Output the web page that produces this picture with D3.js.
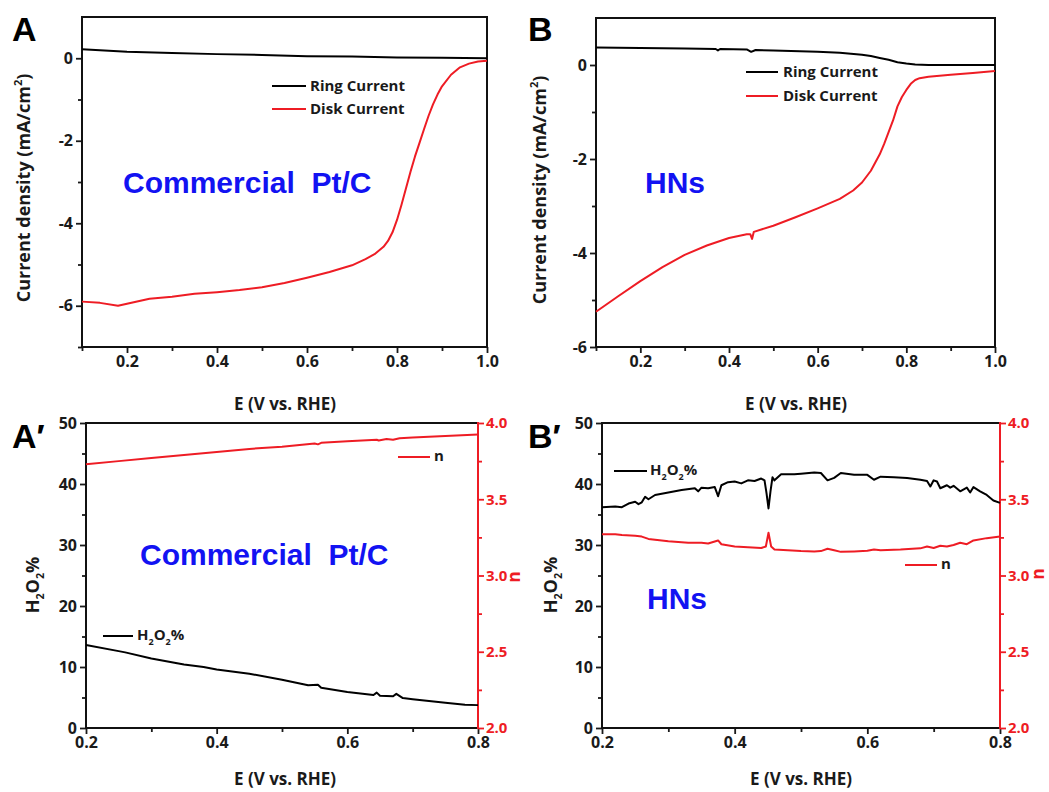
<!DOCTYPE html>
<html><head><meta charset="utf-8">
<script src="https://cdn.jsdelivr.net/npm/d3@7"></script>
<style>
body{margin:0;background:#fff;}
svg text{font-family:"Open Sans",Lato,sans-serif;}
</style></head><body>
<svg id="c" width="1049" height="792"></svg>
<script>
// ---------- DATA ----------
// Panel A (Commercial Pt/C) RRDE
const A_ringE = [0.10,0.20,0.30,0.40,0.50,0.60,0.70,0.80,0.90,1.00];
const A_ring  = [0.22,0.16,0.13,0.10,0.08,0.05,0.04,0.02,0.01,0.00];
const A_diskE = [0.10,0.14,0.18,0.20,0.25,0.30,0.35,0.40,0.45,0.50,0.55,0.60,0.65,0.70,0.73,0.75,0.77,0.78,0.79,0.80,0.81,0.82,0.83,0.84,0.85,0.86,0.87,0.88,0.89,0.90,0.92,0.94,0.96,0.98,1.00];
const A_disk  = [-5.90,-5.93,-6.00,-5.95,-5.83,-5.78,-5.71,-5.67,-5.62,-5.55,-5.45,-5.32,-5.18,-5.02,-4.87,-4.75,-4.57,-4.43,-4.22,-3.92,-3.55,-3.15,-2.75,-2.38,-2.05,-1.72,-1.40,-1.12,-0.88,-0.68,-0.40,-0.22,-0.13,-0.08,-0.06];
// Panel B (HNs) RRDE
const B_ringE = [0.10,0.20,0.30,0.37,0.375,0.38,0.44,0.45,0.46,0.50,0.60,0.65,0.70,0.72,0.74,0.76,0.78,0.80,0.82,0.85,1.00];
const B_ring  = [0.37,0.36,0.35,0.34,0.31,0.34,0.33,0.28,0.32,0.31,0.28,0.26,0.22,0.19,0.15,0.11,0.06,0.03,0.01,0.00,0.00];
const B_diskE = [0.10,0.15,0.20,0.25,0.30,0.35,0.40,0.44,0.448,0.452,0.456,0.50,0.55,0.60,0.65,0.68,0.70,0.72,0.74,0.75,0.76,0.77,0.78,0.79,0.80,0.81,0.82,0.83,0.85,0.90,0.95,1.00];
const B_disk  = [-5.25,-4.92,-4.60,-4.30,-4.04,-3.84,-3.68,-3.60,-3.60,-3.70,-3.55,-3.42,-3.24,-3.05,-2.85,-2.67,-2.50,-2.25,-1.90,-1.68,-1.43,-1.18,-0.88,-0.68,-0.53,-0.40,-0.32,-0.28,-0.25,-0.21,-0.17,-0.13];
// Panel A' (Commercial Pt/C) H2O2% and n
const Ap_h2o2E = [0.20,0.25,0.26,0.30,0.35,0.38,0.40,0.45,0.50,0.54,0.555,0.56,0.60,0.64,0.645,0.65,0.67,0.675,0.685,0.70,0.75,0.78,0.80];
const Ap_h2o2  = [13.6,12.6,12.4,11.4,10.4,10.0,9.6,8.9,7.9,7.0,7.1,6.6,5.9,5.4,5.8,5.3,5.2,5.6,4.9,4.7,4.15,3.8,3.75];
const Ap_nE = [0.20,0.25,0.30,0.35,0.40,0.45,0.50,0.55,0.555,0.56,0.60,0.645,0.648,0.66,0.67,0.68,0.70,0.75,0.80];
const Ap_n  = [3.73,3.75,3.77,3.79,3.81,3.83,3.845,3.865,3.86,3.87,3.88,3.89,3.885,3.895,3.89,3.90,3.905,3.915,3.925];
// Panel B' (HNs) H2O2% and n
const Bp_h2o2E = [0.20,0.22,0.23,0.24,0.25,0.255,0.26,0.265,0.27,0.28,0.30,0.32,0.34,0.345,0.35,0.36,0.37,0.375,0.38,0.39,0.40,0.41,0.42,0.43,0.44,0.445,0.448,0.451,0.454,0.457,0.46,0.47,0.49,0.50,0.52,0.53,0.54,0.55,0.56,0.58,0.60,0.61,0.62,0.64,0.66,0.68,0.69,0.695,0.70,0.705,0.71,0.72,0.725,0.73,0.74,0.75,0.755,0.76,0.77,0.78,0.79,0.80];
const Bp_h2o2  = [36.2,36.3,36.2,36.8,37.1,36.7,37.0,37.9,37.5,38.2,38.6,39.0,39.3,38.8,39.4,39.3,39.5,38.0,39.8,40.3,40.4,40.1,40.6,40.5,40.9,40.6,38.5,36.0,38.8,41.1,40.6,41.6,41.6,41.7,41.9,41.8,40.6,41.0,41.8,41.5,41.5,40.7,41.2,41.1,41.0,40.7,40.5,39.6,40.6,40.4,39.3,39.8,39.4,39.7,38.8,39.4,38.6,39.5,38.8,38.2,37.3,36.9];
const Bp_nE = [0.20,0.22,0.23,0.25,0.26,0.27,0.30,0.33,0.35,0.36,0.375,0.38,0.40,0.42,0.44,0.447,0.451,0.455,0.46,0.48,0.50,0.52,0.53,0.54,0.55,0.56,0.58,0.60,0.61,0.62,0.65,0.68,0.69,0.70,0.71,0.72,0.73,0.74,0.75,0.76,0.78,0.80];
const Bp_n  = [3.27,3.27,3.265,3.26,3.255,3.24,3.225,3.215,3.215,3.21,3.23,3.205,3.19,3.185,3.18,3.19,3.28,3.19,3.17,3.165,3.16,3.158,3.16,3.175,3.165,3.155,3.158,3.162,3.17,3.165,3.17,3.178,3.19,3.18,3.195,3.19,3.2,3.215,3.205,3.23,3.245,3.255];
// Tick labels
const topXTicks = [0.2,0.4,0.6,0.8,1.0];
const topXMinor = [0.1,0.3,0.5,0.7,0.9];
const A_yTicks = [0,-2,-4,-6];
const A_yMinor = [-1,-3,-5,-7];
const B_yTicks = [0,-2,-4,-6];
const B_yMinor = [-1,-3,-5];
const botXTicks = [0.2,0.4,0.6,0.8];
const botXMinor = [0.3,0.5,0.7];
const h2o2Ticks = [0,10,20,30,40,50];
const h2o2Minor = [5,15,25,35,45];
const nTicks = [2.0,2.5,3.0,3.5,4.0];
const nMinor = [2.25,2.75,3.25,3.75];

// ---------- DRAW ----------
const RED = "#ee1c24", BLUE = "#1212f2", INK = "#1a1a1a";
const svg = d3.select("#c");

function axisStyle(g, color, size){
  g.select(".domain").remove();
  g.selectAll("line").attr("stroke", color).attr("stroke-width", 1.8);
  g.selectAll("text").attr("fill", color).style("font-size",(size||16)+"px").style("font-weight","700");
}

function panel(o){
  const x = d3.scaleLinear().domain(o.xd).range([o.l, o.r]);
  const y = d3.scaleLinear().domain(o.yd).range([o.b, o.t]);
  const g = svg.append("g");
  const gx = g.append("g").attr("transform",`translate(0,${o.b})`)
    .call(d3.axisBottom(x).tickValues(o.xt).tickSize(6).tickPadding(3).tickFormat(d=>d.toFixed(1)));
  axisStyle(gx, INK);
  const gxm = g.append("g").attr("transform",`translate(0,${o.b})`)
    .call(d3.axisBottom(x).tickValues(o.xm).tickSize(4).tickFormat(""));
  axisStyle(gxm, INK);
  const gy = g.append("g").attr("transform",`translate(${o.l},0)`)
    .call(d3.axisLeft(y).tickValues(o.yt).tickSize(6).tickPadding(3).tickFormat(d=>String(d)));
  axisStyle(gy, INK);
  const gym = g.append("g").attr("transform",`translate(${o.l},0)`)
    .call(d3.axisLeft(y).tickValues(o.ym).tickSize(4).tickFormat(""));
  axisStyle(gym, INK);
  let y2 = null;
  if (o.y2d){
    y2 = d3.scaleLinear().domain(o.y2d).range([o.b, o.t]);
    const gr = g.append("g").attr("transform",`translate(${o.r},0)`)
      .call(d3.axisRight(y2).tickValues(nTicks).tickSize(6).tickPadding(2).tickFormat(d=>d.toFixed(1)));
    axisStyle(gr, RED, 15);
    const grm = g.append("g").attr("transform",`translate(${o.r},0)`)
      .call(d3.axisRight(y2).tickValues(nMinor).tickSize(4).tickFormat(""));
    axisStyle(grm, RED);
  }
  g.append("path").attr("d",`M${o.r},${o.t}H${o.l}V${o.b}H${o.r}`)
    .attr("fill","none").attr("stroke","#111").attr("stroke-width",2);
  g.append("line").attr("x1",o.r).attr("x2",o.r).attr("y1",o.t-1).attr("y2",o.b+1)
    .attr("stroke", o.y2d ? RED : "#111").attr("stroke-width",2);
  return {x, y, y2, g};
}

function series(p, xs, ys, yscale, color){
  const pts = xs.map((e,i)=>[e, ys[i]]);
  p.g.append("path").datum(pts)
    .attr("d", d3.line().x(d=>p.x(d[0])).y(d=>yscale(d[1])))
    .attr("fill","none").attr("stroke",color).attr("stroke-width",2).attr("stroke-linejoin","round");
}

function legendLine(x1,x2,y,color){
  svg.append("line").attr("x1",x1).attr("x2",x2).attr("y1",y).attr("y2",y)
    .attr("stroke",color).attr("stroke-width",2);
}
function text(x,y,str,opts){
  const t = svg.append("text").attr("x",x).attr("y",y).text(str);
  for (const k in opts) t.style(k, opts[k]);
  return t;
}
function h2o2Text(x,y,size,anchor,weight){
  const t = svg.append("text").attr("x",x).attr("y",y)
    .style("font-size",size+"px").style("font-weight",weight||"700").attr("fill",INK).attr("text-anchor",anchor||"start");
  t.append("tspan").text("H");
  t.append("tspan").text("2").style("font-size",(size*0.6)+"px").attr("dy",size*0.3);
  t.append("tspan").text("O").attr("dy",-size*0.3);
  t.append("tspan").text("2").style("font-size",(size*0.6)+"px").attr("dy",size*0.3);
  t.append("tspan").text("%").attr("dy",-size*0.3);
  return t;
}
function yTitleCD(cx, cy){
  const t = svg.append("text").attr("transform",`translate(${cx},${cy}) rotate(-90)`)
    .attr("text-anchor","middle").attr("dy","0.35em")
    .style("font-size","18px").style("font-weight","700").attr("fill",INK);
  t.append("tspan").text("Current density (mA/cm");
  t.append("tspan").text("2").style("font-size","11px").attr("dy",-8);
  t.append("tspan").text(")").attr("dy",8);
}
const bigFont = {"font-family":"'Liberation Sans',Arial,sans-serif","font-weight":"700","font-size":"30px","fill":BLUE};
const letterFont = {"font-family":"'Liberation Sans',Arial,sans-serif","font-weight":"700","font-size":"34px","fill":"#000"};
const legFont = {"font-size":"15px","font-weight":"700","fill":INK};
const titleFont = {"font-size":"17px","font-weight":"700","fill":INK};
const nFont = {"font-size":"17px","font-weight":"700","fill":RED};

// Panel A
const pA = panel({l:82,r:487,t:17,b:347,xd:[0.1,1.0],yd:[-7,1],xt:topXTicks,xm:topXMinor,yt:A_yTicks,ym:A_yMinor});
series(pA, A_ringE, A_ring, pA.y, "#000");
series(pA, A_diskE, A_disk, pA.y, RED);
legendLine(272,306,86,"#000"); text(310,91,"Ring Current",legFont);
legendLine(272,306,109,RED); text(310,114,"Disk Current",legFont);
text(123,193,"Commercial\u00a0\u00a0Pt/C",bigFont);
text(12,41,"A",letterFont);
yTitleCD(24,188);
text(285,410,"E (V vs. RHE)",titleFont).attr("text-anchor","middle");

// Panel B
const pB = panel({l:596,r:995,t:18,b:347,xd:[0.1,1.0],yd:[-6,1],xt:topXTicks,xm:topXMinor,yt:B_yTicks,ym:B_yMinor});
series(pB, B_ringE, B_ring, pB.y, "#000");
series(pB, B_diskE, B_disk, pB.y, RED);
legendLine(746,778,72,"#000"); text(783,77,"Ring Current",legFont);
legendLine(746,778,96,RED); text(783,101,"Disk Current",legFont);
text(645,193,"HNs",bigFont);
text(528,41,"B",letterFont);
yTitleCD(540,190);
text(796,410,"E (V vs. RHE)",titleFont).attr("text-anchor","middle");

// Panel A'
const pAp = panel({l:86,r:478,t:423,b:728,xd:[0.2,0.8],yd:[0,50],y2d:[2,4],xt:botXTicks,xm:botXMinor,yt:h2o2Ticks,ym:h2o2Minor});
series(pAp, Ap_nE, Ap_n, pAp.y2, RED);
series(pAp, Ap_h2o2E, Ap_h2o2, pAp.y, "#000");
legendLine(398,430,457,RED); text(434,461,"n",legFont);
legendLine(103,133,636,"#000"); h2o2Text(137,640,15,"start","700");
text(140,565,"Commercial\u00a0\u00a0Pt/C",bigFont);
text(12,448,"A\u2032",letterFont);
h2o2Text(0,0,18,"middle").attr("transform","translate(39,585) rotate(-90)");
text(0,0,"n",nFont).attr("text-anchor","middle").attr("transform","translate(520,577) rotate(-90)");
text(285,785,"E (V vs. RHE)",titleFont).attr("text-anchor","middle");

// Panel B'
const pBp = panel({l:602,r:1000,t:423,b:728,xd:[0.2,0.8],yd:[0,50],y2d:[2,4],xt:botXTicks,xm:botXMinor,yt:h2o2Ticks,ym:h2o2Minor});
series(pBp, Bp_nE, Bp_n, pBp.y2, RED);
series(pBp, Bp_h2o2E, Bp_h2o2, pBp.y, "#000");
legendLine(614,647,471,"#000"); h2o2Text(650,475,15,"start","700");
legendLine(905,937,565,RED); text(941,569,"n",legFont);
text(647,609,"HNs",bigFont);
text(528,448,"B\u2032",letterFont);
h2o2Text(0,0,18,"middle").attr("transform","translate(557,585) rotate(-90)");
text(0,0,"n",nFont).attr("text-anchor","middle").attr("transform","translate(1044,574) rotate(-90)");
text(801,785,"E (V vs. RHE)",titleFont).attr("text-anchor","middle");
</script>
</body></html>
